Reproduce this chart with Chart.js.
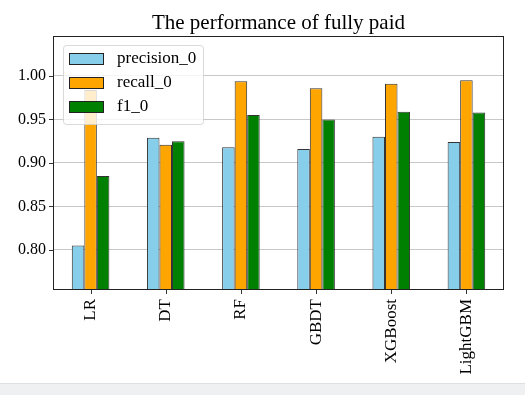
<!DOCTYPE html>
<html>
<head>
<meta charset="utf-8">
<script src="https://cdn.jsdelivr.net/npm/chart.js@4"></script>
<style>
html,body{margin:0;padding:0;background:#fff;}
#wrap{position:relative;width:525px;height:395px;}
#strip{position:absolute;left:0;top:383px;width:525px;height:12px;background:#eef0f2;border-top:1px solid #dde0e3;}
</style>
</head>
<body>
<div id="wrap">
<canvas id="chart" width="525" height="395"></canvas>
<div id="strip"></div>
</div>
<script>
// data
const models=['LR','DT','RF','GBDT','XGBoost','LightGBM'];
const precision0=[0.805,0.929,0.918,0.916,0.930,0.924];
const recall0=[0.984,0.921,0.994,0.986,0.991,0.995];
const f10=[0.885,0.925,0.955,0.950,0.959,0.958];
const yTicks=[0.80,0.85,0.90,0.95,1.00];
const seriesNames=['precision_0','recall_0','f1_0'];
const seriesColors=['#87CEEB','#FFA500','#008000'];
const titleText='The performance of fully paid';

const serif='"Liberation Serif","DejaVu Serif",serif';

// title over the plot, frame, tick marks, legend box in upper left
const framePlugin={
id:'frame',
afterDraw(chart)
{
const c=chart.ctx,a=chart.chartArea;
const xs=chart.scales.x,ys=chart.scales.y;
c.save();
c.fillStyle='#000';
c.font='21px '+serif;
c.textAlign='center';
c.textBaseline='alphabetic';
c.fillText(titleText,(a.left+a.right)/2,29);
c.textAlign='left';
c.strokeStyle='#222';
c.lineWidth=1;
c.strokeRect(Math.round(a.left)+0.5,Math.round(a.top)+0.5,Math.round(a.right-a.left)-1,Math.round(a.bottom-a.top));
// tick marks
c.fillStyle='#333';
for(let i=0;i<models.length;i++)
{
const px=Math.round(xs.getPixelForValue(i));
c.fillRect(px,Math.round(a.bottom)+1,1,4);
}
yTicks.forEach(v=>
{
const py=Math.round(ys.getPixelForValue(v));
c.fillRect(Math.round(a.left)-4,py,4,1);
});
// legend
const x0=a.left+10,y0=a.top+9,w=140,h=79;
c.globalAlpha=0.8;
c.fillStyle='#fff';
c.strokeStyle='#d0d0d0';
c.beginPath();
c.roundRect(x0+0.5,y0+0.5,w,h,3);
c.fill();c.stroke();
c.globalAlpha=1;
chart.data.datasets.forEach((ds,i)=>
{
const yy=y0+14+i*24;
c.fillStyle=ds.backgroundColor;
c.fillRect(x0+6,yy-6,35,12);
c.strokeStyle='#222';
c.strokeRect(x0+6.5,yy-5.5,34,11);
c.fillStyle='#000';
c.font='17px '+serif;
c.textBaseline='middle';
c.fillText(ds.label,x0+54,yy);
});
c.restore();
}
};

const datasets=[precision0,recall0,f10].map((d,i)=>({
label:seriesNames[i],
data:d,
backgroundColor:seriesColors[i],
borderColor:'#333',
borderWidth:1,
borderSkipped:false,
barPercentage:1,
categoryPercentage:0.5
}));

new Chart(document.getElementById('chart'),
{
type:'bar',
data:{labels:models,datasets:datasets},
options:{
responsive:false,
animation:false,
layout:{padding:{left:0,right:21,top:36,bottom:0}},
plugins:{
legend:{display:false},
tooltip:{enabled:false},
title:{display:false}
},
scales:{
x:{
grid:{display:false},
border:{display:false},
ticks:{color:'#000',font:{family:serif,size:17},minRotation:90,maxRotation:90,padding:2},
afterFit(s){s.height=106;}
},
y:{
min:0.755,
max:1.046,
grid:{color:'#c8c8c8',lineWidth:1,drawTicks:false},
border:{display:false},
afterBuildTicks(s){s.ticks=yTicks.map(v=>({value:v}));},
ticks:{color:'#000',font:{family:serif,size:16},padding:7,callback:v=>v.toFixed(2)},
afterFit(s){s.width=53;}
}
}
},
plugins:[framePlugin]
});
</script>
</body>
</html>
